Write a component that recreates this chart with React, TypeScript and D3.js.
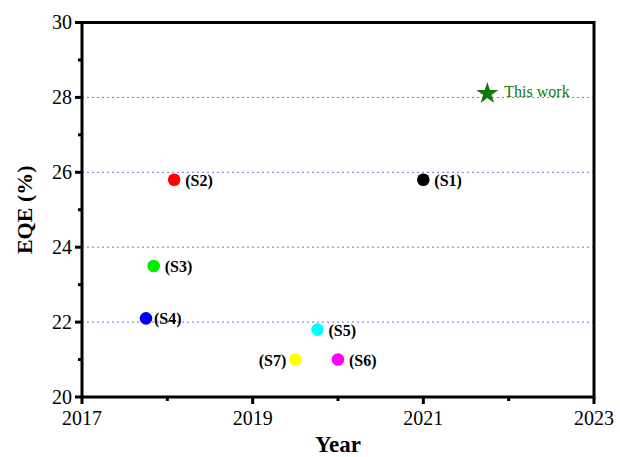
import React from "react";
import * as d3 from "d3";

const names = ["(S1)", "(S2)", "(S3)", "(S4)", "(S5)", "(S6)", "(S7)"];
const years = [2021.0, 2018.08, 2017.84, 2017.75, 2019.76, 2020.0, 2019.5];
const eqe = [25.8, 25.8, 23.5, 22.1, 21.8, 21.0, 21.0];
const colors = ["#000000", "#ff0000", "#00ee00", "#0000ee", "#00ffff", "#ff00ff", "#ffff00"];
const starYear = 2021.75;
const starEqe = 28.1;
const xTicks = [2017, 2019, 2021, 2023];
const xMinor = [2018, 2020, 2022];
const yTicks = [20, 22, 24, 26, 28, 30];
const yMinor = [21, 23, 25, 27, 29];
const gridVals = [22, 24, 26, 28];

export default function App() {
  const W = 620, H = 457;
  const L = 82, R = 594, T = 22.5, B = 397;
  const x = d3.scaleLinear().domain([2017, 2023]).range([L, R]);
  const y = d3.scaleLinear().domain([20, 30]).range([B, T]);
  const star = d3.symbol().type(d3.symbolStar).size(150)();
  const font = "Liberation Serif";
  return (
    <svg width={W} height={H} style={{ position: "absolute", left: 0, top: 0, fontFamily: font }}>
      <rect width={W} height={H} fill="#fff" />
      {gridVals.map((v) => (
        <line key={v} x1={L} x2={R} y1={y(v)} y2={y(v)} stroke="#7070e0" strokeWidth={1} strokeDasharray="2,3" />
      ))}
      <rect x={L} y={T} width={R - L} height={B - T} fill="none" stroke="#000" strokeWidth={3} />
      {yTicks.map((v) => (
        <g key={v}>
          <line x1={L - 7} x2={L} y1={y(v)} y2={y(v)} stroke="#000" strokeWidth={3} />
          <text x={L - 10} y={y(v)} dy="0.33em" textAnchor="end" fontSize={20} style={{ fontFamily: font }}>{v}</text>
        </g>
      ))}
      {yMinor.map((v) => (
        <line key={v} x1={L - 4} x2={L} y1={y(v)} y2={y(v)} stroke="#000" strokeWidth={3} />
      ))}
      {xTicks.map((v) => (
        <g key={v}>
          <line x1={x(v)} x2={x(v)} y1={B} y2={B + 7} stroke="#000" strokeWidth={3} />
          <text x={x(v)} y={B + 28} textAnchor="middle" fontSize={20} style={{ fontFamily: font }}>{v}</text>
        </g>
      ))}
      {xMinor.map((v) => (
        <line key={v} x1={x(v)} x2={x(v)} y1={B} y2={B + 4} stroke="#000" strokeWidth={3} />
      ))}
      {names.map((n, i) => (
        <g key={n}>
          <circle cx={x(years[i])} cy={y(eqe[i])} r={6.3} fill={colors[i]} />
          <text
            x={n === "(S7)" ? x(years[i]) - 9 : x(years[i]) + (n === "(S4)" ? 8 : 11)}
            y={y(eqe[i])}
            dy="0.38em"
            textAnchor={n === "(S7)" ? "end" : "start"}
            fontSize={16}
            fontWeight="bold"
            style={{ fontFamily: font }}
          >{n}</text>
        </g>
      ))}
      <path d={star!} transform={`translate(${x(starYear)},${y(starEqe)})`} fill="#117711" />
      <text x={x(starYear) + 17} y={y(starEqe)} dy="0.2em" fontSize={16} fill="#117711" style={{ fontFamily: font }}>This work</text>
      <text x={(L + R) / 2} y={452} textAnchor="middle" fontSize={23} fontWeight="bold" style={{ fontFamily: font }}>Year</text>
      <text transform={`translate(32,${(T + B) / 2}) rotate(-90)`} textAnchor="middle" fontSize={22} fontWeight="bold" style={{ fontFamily: font }}>EQE (%)</text>
    </svg>
  );
}
